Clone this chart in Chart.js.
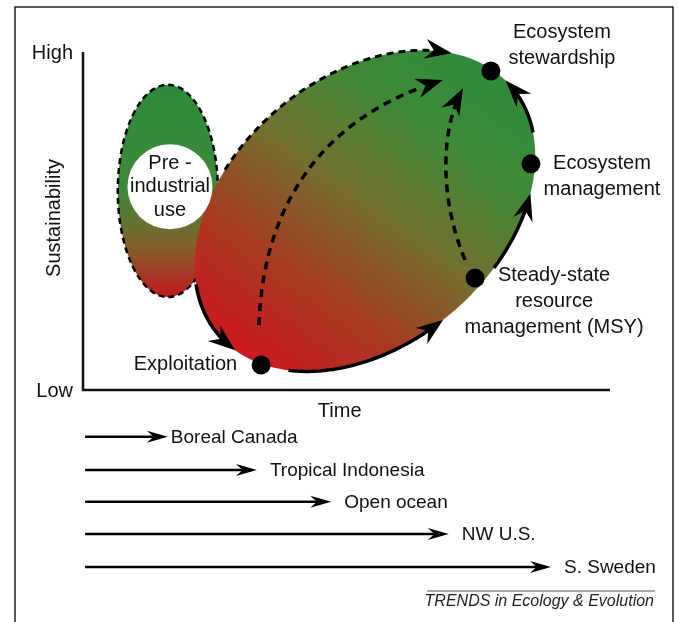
<!DOCTYPE html>
<html>
<head>
<meta charset="utf-8">
<script src="https://cdn.jsdelivr.net/npm/chart.js@4.4.1/dist/chart.umd.min.js"></script>
<style>
    html, body { margin: 0; padding: 0; background: #fff; }
    #wrap { width: 678px; height: 622px; position: relative; }
</style>
</head>
<body>
<div id="wrap"><canvas id="chart"></canvas></div>
<script>
// axes: time (x) and sustainability (y), both on a 0..100 scale
const yTickLabels = ['Low', 'High'];
const yTickValues = [0, 100];

// stages of the management trajectory
const stageNames = ['Exploitation', 'Steady-state|resource|management (MSY)', 'Ecosystem|management', 'Ecosystem|stewardship'];
const stageTime = [33.8, 74.4, 85.0, 77.4];
const stageSustainability = [7.4, 33.1, 66.9, 94.4];

// pre-industrial use ellipse: centre and half extents
const preCentre = [16.1, 58.9];
const preSpread = [9.5, 31.4];
const preLabel = ['Pre -', 'industrial', 'use'];

// industrial-era ellipse: centre and two conjugate half axes
const stateCentre = [53.5, 53.0];
const stateAxisA = [27.9, 36.5];
const stateAxisB = [16.3, -30.4];

// arcs along the ellipse edge, in degrees of the ellipse parameter [from, to]
const dashedArcs = [[245, 331]];
const solidArcs = [[203, 170], [147, 93], [71, 44], [21, -4]];

// inner dashed shortcuts (cubic curves: start, ctrl, ctrl, end)
const shortcutPaths = [
    [[33.4, 19.2], [34.0, 50.3], [43.1, 79.9], [68.3, 91.7]],
    [[72.5, 38.5], [67.7, 56.2], [67.7, 76.9], [72.1, 89.3]]
];

// timeline: how far each region has progressed along the time axis
const regions = ['Boreal Canada', 'Tropical Indonesia', 'Open ocean', 'NW U.S.', 'S. Sweden'];
const regionReach = [16.1, 33.0, 47.1, 69.4, 88.8];
const regionRow = [-13.8, -23.7, -33.1, -42.6, -52.4];
const regionStart = 0.4;

const FONT = '"Liberation Sans", Arial, Helvetica, sans-serif';

function toPx(chart, x, y) {
    return [chart.scales.x.getPixelForValue(x), chart.scales.y.getPixelForValue(y)];
}

function ellipsePoint(chart, deg) {
    const t = deg * Math.PI / 180;
    return toPx(chart,
        stateCentre[0] + stateAxisA[0] * Math.cos(t) + stateAxisB[0] * Math.sin(t),
        stateCentre[1] + stateAxisA[1] * Math.cos(t) + stateAxisB[1] * Math.sin(t));
}

function bezierPoint(p, t) {
    const s = 1 - t;
    return [
        s*s*s*p[0][0] + 3*s*s*t*p[1][0] + 3*s*t*t*p[2][0] + t*t*t*p[3][0],
        s*s*s*p[0][1] + 3*s*s*t*p[1][1] + 3*s*t*t*p[2][1] + t*t*t*p[3][1]
    ];
}

function arrowHead(ctx, tip, dir, len, half) {
    const m = Math.hypot(dir[0], dir[1]);
    const ux = dir[0] / m, uy = dir[1] / m;
    const nx = -uy, ny = ux;
    ctx.beginPath();
    ctx.moveTo(tip[0], tip[1]);
    ctx.lineTo(tip[0] - ux * len + nx * half, tip[1] - uy * len + ny * half);
    ctx.lineTo(tip[0] - ux * len * 0.68, tip[1] - uy * len * 0.68);
    ctx.lineTo(tip[0] - ux * len - nx * half, tip[1] - uy * len - ny * half);
    ctx.closePath();
    ctx.fill();
}

function drawArc(ctx, chart, from, to, dashed) {
    const dirSign = to > from ? 1 : -1;
    const stop = to - dirSign * 3;
    ctx.save();
    ctx.lineWidth = dashed ? 3 : 3.5;
    ctx.setLineDash(dashed ? [7, 5] : []);
    ctx.beginPath();
    const n = 90;
    for (let i = 0; i <= n; i++) {
        const p = ellipsePoint(chart, from + (stop - from) * i / n);
        if (i) ctx.lineTo(p[0], p[1]); else ctx.moveTo(p[0], p[1]);
    }
    ctx.stroke();
    ctx.restore();
    const tip = ellipsePoint(chart, to);
    const back = ellipsePoint(chart, to - dirSign * 4);
    arrowHead(ctx, tip, [tip[0] - back[0], tip[1] - back[1]], 27, 10);
}

const backdrop = {
    id: 'backdrop',
    beforeDatasetsDraw(chart) {
        const ctx = chart.ctx;
        const xs = chart.scales.x, ys = chart.scales.y;
        ctx.save();
        ctx.fillStyle = '#000';
        ctx.strokeStyle = '#000';

        // frame
        ctx.strokeStyle = '#222';
        ctx.lineWidth = 1.5;
        ctx.strokeRect(15, 7, 658, 640);

        // axes
        ctx.strokeStyle = '#111';
        ctx.lineWidth = 2.5;
        ctx.beginPath();
        ctx.moveTo(xs.getPixelForValue(0), ys.getPixelForValue(100));
        ctx.lineTo(xs.getPixelForValue(0), ys.getPixelForValue(0));
        ctx.lineTo(xs.getPixelForValue(100), ys.getPixelForValue(0));
        ctx.stroke();

        // pre-industrial ellipse
        const pc = toPx(chart, preCentre[0], preCentre[1]);
        const prx = xs.getPixelForValue(preCentre[0] + preSpread[0]) - pc[0];
        const pry = pc[1] - ys.getPixelForValue(preCentre[1] + preSpread[1]);
        const g1 = ctx.createLinearGradient(0, pc[1] - pry, 0, pc[1] + pry);
        g1.addColorStop(0, '#2e8b3b');
        g1.addColorStop(0.5, '#3d8a38');
        g1.addColorStop(0.76, '#80612b');
        g1.addColorStop(1, '#c2191f');
        ctx.fillStyle = g1;
        ctx.beginPath();
        ctx.ellipse(pc[0], pc[1], prx, pry, 0, 0, Math.PI * 2);
        ctx.fill();
        ctx.save();
        ctx.strokeStyle = '#000';
        ctx.lineWidth = 2.5;
        ctx.setLineDash([6, 4]);
        ctx.stroke();
        ctx.restore();

        // industrial ellipse, red at exploitation fading to green at stewardship
        const gA = ellipsePoint(chart, 160), gB = ellipsePoint(chart, -20);
        const g2 = ctx.createLinearGradient(gA[0], gA[1], gB[0], gB[1]);
        g2.addColorStop(0, '#cc1a1f');
        g2.addColorStop(0.25, '#a63a22');
        g2.addColorStop(0.52, '#737030');
        g2.addColorStop(0.78, '#3f8a38');
        g2.addColorStop(1, '#2f8c3a');
        ctx.fillStyle = g2;
        ctx.beginPath();
        for (let i = 0; i <= 180; i++) {
            const p = ellipsePoint(chart, i * 2);
            if (i) ctx.lineTo(p[0], p[1]); else ctx.moveTo(p[0], p[1]);
        }
        ctx.closePath();
        ctx.fill();

        // white label disc
        ctx.fillStyle = '#fff';
        ctx.beginPath();
        const disc = toPx(chart, preCentre[0] + 0.4, preCentre[1] + 1.2);
        ctx.arc(disc[0], disc[1], 42.5, 0, Math.PI * 2);
        ctx.fill();

        // trajectory arcs
        ctx.fillStyle = '#000';
        ctx.strokeStyle = '#000';
        dashedArcs.forEach(a => drawArc(ctx, chart, a[0], a[1], true));
        solidArcs.forEach(a => drawArc(ctx, chart, a[0], a[1], false));

        // shortcuts
        shortcutPaths.forEach(path => {
            const p = path.map(q => toPx(chart, q[0], q[1]));
            ctx.save();
            ctx.lineWidth = 3.5;
            ctx.setLineDash([8, 6]);
            ctx.beginPath();
            for (let i = 0; i <= 60; i++) {
                const b = bezierPoint(p, 0.93 * i / 60);
                if (i) ctx.lineTo(b[0], b[1]); else ctx.moveTo(b[0], b[1]);
            }
            ctx.stroke();
            ctx.restore();
            const tip = p[3], back = bezierPoint(p, 0.97);
            arrowHead(ctx, tip, [tip[0] - back[0], tip[1] - back[1]], 27, 10);
        });

        // timeline arrows
        regions.forEach((name, i) => {
            const a = toPx(chart, regionStart, regionRow[i]);
            const b = toPx(chart, regionReach[i], regionRow[i]);
            ctx.lineWidth = 2.5;
            ctx.beginPath();
            ctx.moveTo(a[0], a[1]);
            ctx.lineTo(b[0] - 10, b[1]);
            ctx.stroke();
            arrowHead(ctx, b, [1, 0], 21, 6);
            ctx.font = '19px ' + FONT;
            ctx.fillStyle = '#111';
            ctx.textAlign = 'left';
            ctx.textBaseline = 'middle';
            ctx.fillText(name, b[0] + (i === 0 ? 3 : 13), b[1] + 1);
            ctx.fillStyle = '#000';
        });

        ctx.restore();
    },
    afterDatasetsDraw(chart) {
        const ctx = chart.ctx;
        const xs = chart.scales.x, ys = chart.scales.y;
        ctx.save();
        ctx.fillStyle = '#111';
        ctx.font = '20px ' + FONT;
        ctx.textBaseline = 'middle';

        // axis ticks and titles
        ctx.textAlign = 'right';
        yTickLabels.forEach((t, i) => {
            ctx.fillText(t, xs.getPixelForValue(0) - 10, ys.getPixelForValue(yTickValues[i]) + 1);
        });
        ctx.textAlign = 'center';
        ctx.fillText('Time', xs.getPixelForValue(48.7), ys.getPixelForValue(0) + 21);
        ctx.save();
        ctx.translate(54, ys.getPixelForValue(50) - 3);
        ctx.rotate(-Math.PI / 2);
        ctx.fillText('Sustainability', 0, 0);
        ctx.restore();

        // pre-industrial label
        const disc = toPx(chart, preCentre[0] + 0.4, preCentre[1] + 1.2);
        preLabel.forEach((t, i) => ctx.fillText(t, disc[0], disc[1] + (i - 1) * 23.5));

        // stage labels
        const place = [
            { dx: -24, dy: 0, align: 'right' },
            { dx: 79, dy: -3, align: 'center' },
            { dx: 71, dy: 0, align: 'center' },
            { dx: 71, dy: -38, align: 'center' }
        ];
        stageNames.forEach((name, i) => {
            const p = toPx(chart, stageTime[i], stageSustainability[i]);
            ctx.textAlign = place[i].align;
            name.split('|').forEach((line, k) => {
                ctx.fillText(line, p[0] + place[i].dx, p[1] + place[i].dy + k * 26);
            });
        });

        // source credit
        ctx.strokeStyle = '#888';
        ctx.lineWidth = 1.5;
        ctx.beginPath();
        ctx.moveTo(427, 591);
        ctx.lineTo(655, 591);
        ctx.stroke();
        ctx.font = 'italic 16px ' + FONT;
        ctx.textAlign = 'right';
        ctx.fillStyle = '#222';
        ctx.fillText('TRENDS in Ecology & Evolution', 654, 602);
        ctx.restore();
    }
};

new Chart(document.getElementById('chart'), {
    type: 'scatter',
    data: {
        datasets: [{
            label: 'Stages',
            data: stageTime.map((x, i) => ({ x: x, y: stageSustainability[i] })),
            pointRadius: 9.5,
            pointBackgroundColor: '#000',
            pointBorderWidth: 0,
            clip: false
        }]
    },
    options: {
        responsive: true,
        maintainAspectRatio: false,
        animation: false,
        events: [],
        layout: { padding: 0, autoPadding: false },
        plugins: {
            legend: { display: false },
            tooltip: { enabled: false }
        },
        scales: {
            x: { type: 'linear', display: false, min: -15.75, max: 112.9 },
            y: { type: 'linear', display: false, min: -68.64, max: 115.38 }
        }
    },
    plugins: [backdrop]
});
</script>
</body>
</html>
